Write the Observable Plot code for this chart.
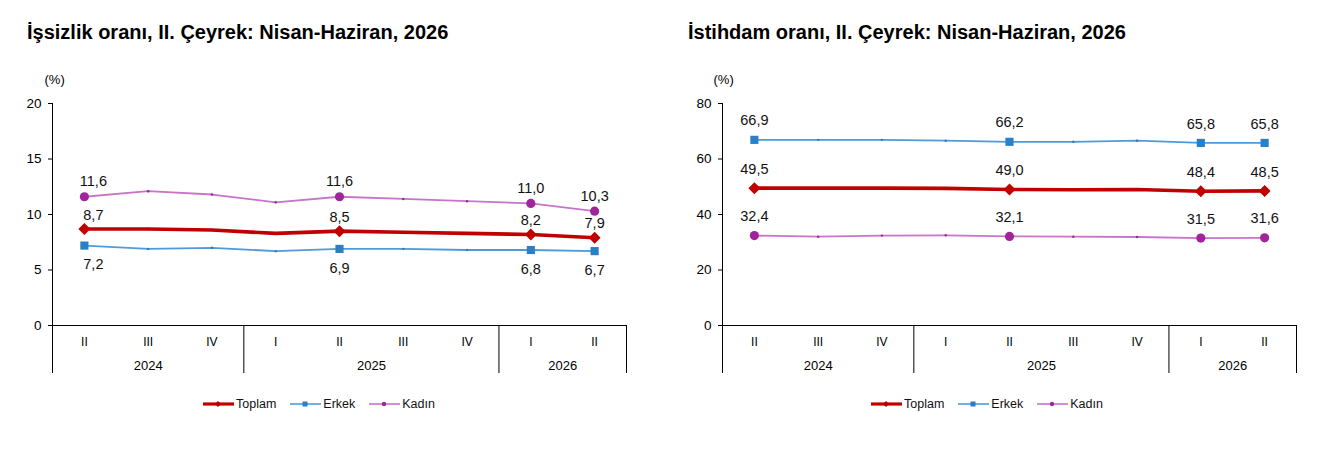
<!DOCTYPE html>
<html>
<head>
<meta charset="utf-8">
<script src="https://cdn.jsdelivr.net/npm/d3@7"></script>
<script src="https://cdn.jsdelivr.net/npm/@observablehq/plot@0.6"></script>
<style>
  body { margin: 0; background: #fff; font-family: "Liberation Sans", Arial, sans-serif; }
  #wrap { display: flex; width: 1332px; height: 452px; }
  .chart { position: relative; width: 666px; height: 452px; }
  .title { position: absolute; top: 20px; font-weight: bold; font-size: 20px; line-height: 24px; color: #000; white-space: nowrap; }
  .plot { position: absolute; top: 60px; left: 0; }
  .legend { position: absolute; top: 397px; display: flex; gap: 14px; font-size: 12.5px; color: #111; align-items: center; }
  .legend .item { display: flex; align-items: center; gap: 2px; }
</style>
</head>
<body>
<div id="wrap"></div>
<script>
// ---- data ----
const quarters = ["II", "III", "IV", "I", "II", "III", "IV", "I", "II"];
const years    = ["2024", "2024", "2024", "2025", "2025", "2025", "2025", "2026", "2026"];
const labelledIdx = [0, 4, 7, 8];

const seriesNames = ["Toplam", "Erkek", "Kadın"];

const issizlikToplam = [8.7, 8.7, 8.6, 8.3, 8.5, 8.4, 8.3, 8.2, 7.9];
const issizlikErkek  = [7.2, 6.9, 7.0, 6.7, 6.9, 6.9, 6.8, 6.8, 6.7];
const issizlikKadin  = [11.6, 12.1, 11.8, 11.1, 11.6, 11.4, 11.2, 11.0, 10.3];
const issizlikTicks  = [0, 5, 10, 15, 20];

const istihdamToplam = [49.5, 49.5, 49.5, 49.4, 49.0, 48.9, 49.0, 48.4, 48.5];
const istihdamErkek  = [66.9, 66.9, 66.9, 66.6, 66.2, 66.2, 66.6, 65.8, 65.8];
const istihdamKadin  = [32.4, 32.0, 32.4, 32.5, 32.1, 32.0, 31.9, 31.5, 31.6];
const istihdamTicks  = [0, 20, 40, 60, 80];

const titles = [
  "İşsizlik oranı, II. Çeyrek: Nisan-Haziran, 2026",
  "İstihdam oranı, II. Çeyrek: Nisan-Haziran, 2026"
];
const unitLabel = "(%)";

// ---- styles ----
const styles = {
  "Toplam": {line: "#C00000", mark: "#C00000", width: 3.6, symbol: "diamond2", r: 5.4},
  "Erkek":  {line: "#4E9ADB", mark: "#2A7FC6", width: 1.8, symbol: "square", r: 4.6},
  "Kadın":  {line: "#C874C8", mark: "#A0259C", width: 1.8, symbol: "circle", r: 4.6}
};

const fmt = v => v.toFixed(1).replace(".", ",");

function makeChart(cfg) {
  const rows = [];
  cfg.series.forEach((vals, s) => {
    vals.forEach((v, i) => rows.push({name: seriesNames[s], i, v}));
  });
  const seps = [];
  years.forEach((y, i) => { if (i > 0 && y !== years[i - 1]) seps.push(i - 0.5); });
  seps.push(years.length - 0.5);
  const yearGroups = Array.from(d3.group(years.map((y, i) => ({y, i})), d => d.y),
    ([y, arr]) => ({y, c: (arr[0].i + arr[arr.length - 1].i) / 2}));
  const qRows = quarters.map((q, i) => ({q, i}));

  const marks = [
    Plot.ruleY([0], {stroke: "#000", strokeWidth: 1}),
    Plot.ruleX([-0.5], {stroke: "#000", strokeWidth: 1, insetBottom: -48}),
    Plot.ruleX(seps, {x: d => d, y1: 0, y2: 0, insetBottom: -48, stroke: "#000", strokeWidth: 1}),
    Plot.axisY({ticks: cfg.ticks, tickSize: 4, tickPadding: 7, label: null, fontSize: 13.5}),
    Plot.text([unitLabel], {frameAnchor: "top-left", dx: cfg.unitDx, dy: -29, textAnchor: "start", fontSize: 13}),
    Plot.text(qRows, {x: "i", y: 0, text: "q", dy: 17, fontSize: 12}),
    Plot.text(yearGroups, {x: "c", y: 0, text: "y", dy: 40, fontSize: 13})
  ];
  for (const name of seriesNames) {
    const st = styles[name];
    const data = rows.filter(d => d.name === name);
    const lab = data.filter(d => labelledIdx.includes(d.i));
    marks.push(Plot.line(data, {x: "i", y: "v", stroke: st.line, strokeWidth: st.width}));
    marks.push(Plot.dot(data.filter(d => !labelledIdx.includes(d.i)), {x: "i", y: "v", r: 1.2, fill: st.mark, stroke: "none"}));
    marks.push(Plot.dot(lab, {x: "i", y: "v", r: st.r, symbol: st.symbol, fill: st.mark, stroke: "none"}));
    marks.push(Plot.text(lab.filter(d => d.i === labelledIdx[0]), {
      x: "i", y: "v", text: d => fmt(d.v), fontSize: 14.5, fill: "#111",
      dy: cfg.labelDy[name], dx: cfg.firstDx
    }));
    marks.push(Plot.text(lab.filter(d => d.i !== labelledIdx[0]), {
      x: "i", y: "v", text: d => fmt(d.v), fontSize: 14.5, fill: "#111",
      dy: cfg.labelDy[name]
    }));
  }
  return Plot.plot({
    width: 666, height: 320,
    marginTop: 43, marginBottom: 55, marginLeft: cfg.ml, marginRight: cfg.mr,
    style: {fontFamily: "'Liberation Sans', Arial, sans-serif", color: "#000", background: "#fff", overflow: "visible"},
    x: {type: "linear", domain: [-0.5, quarters.length - 0.5], axis: null},
    y: {domain: [cfg.ticks[0], cfg.ticks[cfg.ticks.length - 1]], axis: null},
    marks
  });
}

const configs = [
  {title: titles[0], series: [issizlikToplam, issizlikErkek, issizlikKadin], ticks: issizlikTicks,
   ml: 52, mr: 40, unitDx: -8, titleLeft: 27, legendLeft: 203, firstDx: 9,
   labelDy: {"Toplam": -14, "Erkek": 19, "Kadın": -15}},
  {title: titles[1], series: [istihdamToplam, istihdamErkek, istihdamKadin], ticks: istihdamTicks,
   ml: 56, mr: 36, unitDx: -9, titleLeft: 22, legendLeft: 205, firstDx: 0,
   labelDy: {"Toplam": -19, "Erkek": -19, "Kadın": -19}}
];

const wrap = document.getElementById("wrap");
configs.forEach(cfg => {
  const div = document.createElement("div");
  div.className = "chart";
  const t = document.createElement("div");
  t.className = "title"; t.style.left = cfg.titleLeft + "px"; t.textContent = cfg.title;
  div.appendChild(t);
  const p = document.createElement("div");
  p.className = "plot";
  p.appendChild(makeChart(cfg));
  div.appendChild(p);
  const lg = document.createElement("div");
  lg.className = "legend"; lg.style.left = cfg.legendLeft + "px";
  for (const name of seriesNames) {
    const st = styles[name];
    const it = document.createElement("div");
    it.className = "item";
    let mk;
    if (st.symbol === "diamond2") mk = `<path d="M15,2 L18,5 L15,8 L12,5 Z" fill="${st.mark}"/>`;
    else if (st.symbol === "square") mk = `<rect x="12.5" y="2.5" width="5" height="5" fill="${st.mark}"/>`;
    else mk = `<circle cx="15" cy="5" r="2.2" fill="${st.mark}"/>`;
    it.innerHTML = `<svg width="31" height="10"><line x1="0" x2="31" y1="5" y2="5" stroke="${st.line}" stroke-width="${name === 'Toplam' ? 3.2 : 1.6}"/>${mk}</svg><span>${name}</span>`;
    lg.appendChild(it);
  }
  div.appendChild(lg);
  wrap.appendChild(div);
});
</script>
</body>
</html>
